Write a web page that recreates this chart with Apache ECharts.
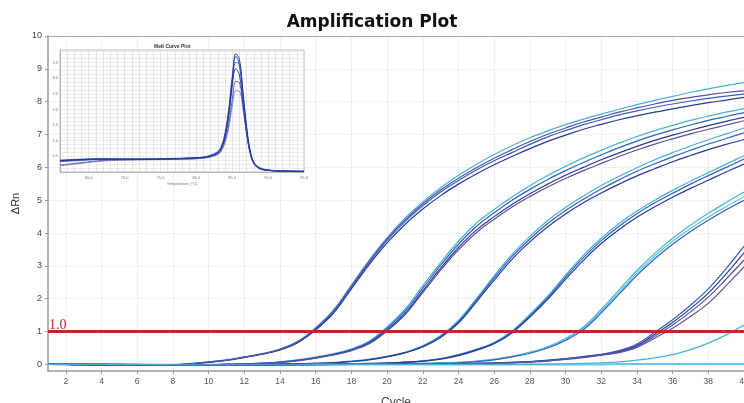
<!DOCTYPE html>
<html><head><meta charset="utf-8">
<script src="https://cdn.jsdelivr.net/npm/echarts@6/dist/echarts.min.js"></script>
<style>html,body{margin:0;padding:0;background:#fff}#c{width:744px;height:403px}</style>
</head><body><div id="c"></div>
<script>
// ---------- Amplification plot data ----------
const cycles = [1,2,3,4,5,6,7,8,9,10,11,12,13,14,15,16,17,18,19,20,21,22,23,24,25,26,27,28,29,30,31,32,33,34,35,36,37,38,39,40];
const xTicks = [2,4,6,8,10,12,14,16,18,20,22,24,26,28,30,32,34,36,38,40];
const yTicks = [0,1,2,3,4,5,6,7,8,9,10];
const threshold = 1.0;

const g1a = [0.02,0.01,0.01,0.0,-0.01,-0.02,-0.02,-0.01,0.03,0.08,0.14,0.23,0.33,0.47,0.71,1.12,1.66,2.42,3.18,3.86,4.45,4.95,5.38,5.76,6.09,6.39,6.66,6.9,7.11,7.3,7.47,7.62,7.77,7.91,8.04,8.16,8.28,8.39,8.49,8.58];
const g1b = [0.01,0.01,0.0,0.0,-0.01,-0.02,-0.03,-0.02,0.02,0.07,0.13,0.22,0.32,0.45,0.68,1.08,1.6,2.35,3.1,3.78,4.35,4.83,5.25,5.6,5.92,6.2,6.45,6.7,6.93,7.12,7.3,7.45,7.6,7.72,7.83,7.93,8.02,8.1,8.17,8.23];
const g1c = [0.01,0.0,0.0,-0.01,-0.02,-0.03,-0.03,-0.02,0.01,0.06,0.12,0.21,0.31,0.44,0.66,1.05,1.56,2.3,3.04,3.7,4.26,4.73,5.14,5.49,5.8,6.08,6.33,6.57,6.79,6.98,7.16,7.31,7.45,7.57,7.68,7.78,7.88,7.97,8.05,8.13];
const g1d = [0.02,0.01,0.0,0.0,-0.01,-0.02,-0.02,-0.01,0.02,0.07,0.13,0.22,0.32,0.46,0.69,1.1,1.63,2.38,3.14,3.82,4.4,4.89,5.31,5.67,5.99,6.28,6.54,6.79,7.01,7.2,7.38,7.53,7.68,7.81,7.93,8.04,8.13,8.21,8.28,8.33];

const g2a = [0.01,0.01,0.0,0.0,-0.01,-0.01,-0.02,-0.02,-0.02,-0.01,0.0,0.02,0.04,0.08,0.14,0.22,0.33,0.47,0.71,1.14,1.68,2.4,3.1,3.75,4.3,4.72,5.1,5.44,5.75,6.03,6.29,6.52,6.74,6.94,7.12,7.28,7.43,7.56,7.68,7.79];
const g2b = [0.01,0.0,0.0,-0.01,-0.01,-0.02,-0.02,-0.02,-0.02,-0.01,0.0,0.01,0.03,0.07,0.13,0.21,0.31,0.45,0.68,1.1,1.62,2.32,3.02,3.66,4.2,4.62,5.0,5.33,5.63,5.9,6.15,6.38,6.6,6.8,6.98,7.14,7.29,7.43,7.55,7.67];
const g2c = [0.0,0.0,-0.01,-0.01,-0.02,-0.02,-0.03,-0.03,-0.02,-0.01,0.0,0.01,0.03,0.06,0.12,0.2,0.3,0.43,0.65,1.05,1.55,2.24,2.93,3.56,4.09,4.5,4.87,5.2,5.49,5.76,6.0,6.23,6.44,6.64,6.82,6.98,7.13,7.27,7.4,7.52];
const g2d = [0.0,0.0,-0.01,-0.01,-0.02,-0.02,-0.03,-0.03,-0.02,-0.01,0.0,0.01,0.03,0.06,0.11,0.19,0.29,0.42,0.63,1.02,1.51,2.19,2.87,3.49,4.01,4.42,4.79,5.11,5.4,5.66,5.9,6.12,6.33,6.53,6.71,6.87,7.02,7.16,7.29,7.42];

const g3a = [0.0,0.0,0.0,-0.01,-0.01,-0.02,-0.02,-0.02,-0.02,-0.02,-0.01,-0.01,0.0,0.01,0.02,0.03,0.06,0.1,0.16,0.25,0.37,0.57,0.88,1.34,2.0,2.7,3.35,3.9,4.38,4.78,5.13,5.45,5.73,5.99,6.23,6.45,6.65,6.84,7.02,7.2];
const g3b = [0.0,0.0,-0.01,-0.01,-0.01,-0.02,-0.02,-0.02,-0.02,-0.02,-0.01,-0.01,0.0,0.01,0.02,0.03,0.05,0.09,0.15,0.24,0.36,0.55,0.85,1.3,1.95,2.64,3.28,3.82,4.29,4.69,5.03,5.34,5.62,5.88,6.11,6.32,6.52,6.71,6.88,7.05];
const g3c = [0.0,-0.01,-0.01,-0.01,-0.02,-0.02,-0.02,-0.03,-0.02,-0.02,-0.01,-0.01,0.0,0.01,0.02,0.03,0.05,0.09,0.14,0.23,0.35,0.53,0.82,1.26,1.9,2.57,3.2,3.73,4.19,4.58,4.92,5.22,5.49,5.74,5.96,6.17,6.36,6.54,6.7,6.85];

const g4a = [0.0,0.0,0.0,0.0,-0.01,-0.01,-0.01,-0.02,-0.02,-0.02,-0.02,-0.01,-0.01,0.0,0.0,0.01,0.01,0.02,0.03,0.05,0.07,0.11,0.18,0.3,0.46,0.67,1.02,1.52,2.08,2.72,3.32,3.84,4.29,4.67,5.0,5.3,5.58,5.84,6.1,6.35];
const g4b = [0.0,0.0,0.0,-0.01,-0.01,-0.01,-0.02,-0.02,-0.02,-0.02,-0.02,-0.01,-0.01,0.0,0.0,0.01,0.01,0.02,0.03,0.04,0.07,0.1,0.17,0.29,0.45,0.65,0.99,1.48,2.03,2.66,3.25,3.77,4.21,4.59,4.92,5.21,5.49,5.75,6.0,6.25];
const g4c = [0.0,0.0,-0.01,-0.01,-0.01,-0.02,-0.02,-0.02,-0.02,-0.02,-0.02,-0.01,-0.01,0.0,0.0,0.0,0.01,0.02,0.02,0.04,0.06,0.1,0.16,0.27,0.43,0.63,0.96,1.44,1.98,2.59,3.17,3.68,4.11,4.48,4.8,5.09,5.36,5.61,5.86,6.1];

const g5a = [0.0,0.0,0.0,0.0,0.0,-0.01,-0.01,-0.01,-0.01,-0.02,-0.02,-0.02,-0.01,-0.01,-0.01,0.0,0.0,0.0,0.01,0.01,0.02,0.03,0.04,0.06,0.1,0.16,0.25,0.37,0.54,0.79,1.14,1.68,2.27,2.86,3.38,3.84,4.24,4.6,4.93,5.25];
const g5b = [0.0,0.0,0.0,0.0,-0.01,-0.01,-0.01,-0.01,-0.02,-0.02,-0.02,-0.02,-0.01,-0.01,-0.01,0.0,0.0,0.0,0.01,0.01,0.02,0.03,0.04,0.06,0.09,0.15,0.24,0.36,0.52,0.76,1.1,1.62,2.2,2.78,3.3,3.75,4.14,4.49,4.81,5.1];
const g5c = [0.0,0.0,0.0,-0.01,-0.01,-0.01,-0.01,-0.02,-0.02,-0.02,-0.02,-0.02,-0.01,-0.01,-0.01,0.0,0.0,0.0,0.0,0.01,0.02,0.02,0.04,0.05,0.09,0.14,0.23,0.34,0.5,0.73,1.06,1.57,2.14,2.71,3.22,3.66,4.05,4.39,4.71,5.0];

const g6a = [0.0,0.0,0.0,0.0,0.0,0.0,-0.01,-0.01,-0.01,-0.01,-0.01,-0.02,-0.02,-0.02,-0.01,-0.01,-0.01,0.0,0.0,0.0,0.0,0.01,0.01,0.02,0.03,0.04,0.06,0.09,0.13,0.18,0.24,0.31,0.42,0.62,0.98,1.36,1.8,2.3,2.92,3.6];
const g6b = [0.0,0.0,0.0,0.0,0.0,-0.01,-0.01,-0.01,-0.01,-0.01,-0.02,-0.02,-0.02,-0.01,-0.01,-0.01,0.0,0.0,0.0,0.0,0.01,0.01,0.01,0.02,0.03,0.04,0.06,0.08,0.12,0.17,0.23,0.3,0.4,0.58,0.92,1.28,1.7,2.17,2.76,3.4];
const g6c = [0.0,0.0,0.0,0.0,-0.01,-0.01,-0.01,-0.01,-0.01,-0.02,-0.02,-0.02,-0.01,-0.01,-0.01,0.0,0.0,0.0,0.0,0.0,0.01,0.01,0.01,0.02,0.03,0.04,0.05,0.08,0.11,0.16,0.22,0.29,0.38,0.55,0.86,1.2,1.6,2.05,2.6,3.18];
const g6d = [0.0,0.0,0.0,-0.01,-0.01,-0.01,-0.01,-0.01,-0.02,-0.02,-0.02,-0.01,-0.01,-0.01,0.0,0.0,0.0,0.0,0.0,0.0,0.01,0.01,0.01,0.02,0.03,0.04,0.05,0.07,0.1,0.15,0.21,0.28,0.36,0.52,0.8,1.1,1.46,1.86,2.4,2.97];

const g7a = [0.0,0.0,0.0,0.0,0.0,0.0,0.0,-0.01,-0.01,-0.01,-0.01,-0.01,-0.01,-0.01,-0.01,0.0,0.0,0.0,0.0,0.0,0.0,0.0,0.0,0.0,0.0,0.0,0.0,0.0,0.01,0.02,0.03,0.05,0.08,0.13,0.2,0.3,0.45,0.65,0.9,1.2];
const ntc = [0.01,0.01,0.0,0.0,0.0,-0.01,-0.01,-0.01,-0.01,-0.01,0.0,0.0,0.0,0.0,0.0,0.0,0.0,0.0,0.0,0.0,0.0,0.0,0.0,0.0,0.0,0.0,0.0,0.0,0.0,0.0,0.0,0.0,0.01,0.01,0.01,0.01,0.01,0.01,0.01,0.01];

// ---------- Melt curve inset data ----------
const temps = [61,64,67,70,73,76,79,81,82,83,83.5,84,84.5,85,85.5,86,86.5,87,87.5,88,88.5,89,90,92,95];
const insetXTicks = [65,70,75,80,85,90,95];
const insetYTicks = [0.5,1,1.5,2,2.5,3,3.5];
const m1 = [0.36,0.4,0.42,0.41,0.41,0.42,0.44,0.47,0.52,0.62,0.78,1.15,1.85,2.9,3.78,3.6,2.55,1.45,0.68,0.3,0.16,0.1,0.06,0.03,0.02];
const m2 = [0.38,0.41,0.42,0.42,0.42,0.43,0.45,0.48,0.54,0.66,0.84,1.25,2.0,3.05,3.7,3.4,2.35,1.3,0.6,0.27,0.15,0.09,0.05,0.03,0.02];
const m3 = [0.33,0.37,0.4,0.4,0.4,0.41,0.43,0.46,0.5,0.6,0.74,1.08,1.7,2.7,3.5,3.45,2.5,1.42,0.66,0.3,0.16,0.1,0.06,0.03,0.02];
const m4 = [0.22,0.3,0.37,0.39,0.4,0.41,0.42,0.45,0.49,0.58,0.7,1.0,1.5,2.3,2.9,2.85,2.15,1.3,0.62,0.3,0.17,0.11,0.06,0.03,0.02];
const m5 = [0.2,0.28,0.35,0.38,0.39,0.4,0.41,0.44,0.48,0.56,0.68,0.95,1.4,2.1,2.6,2.58,1.98,1.22,0.62,0.32,0.2,0.13,0.07,0.03,0.02];
const m6 = [0.35,0.39,0.41,0.41,0.41,0.42,0.44,0.47,0.52,0.63,0.8,1.18,1.88,2.85,3.3,3.1,2.2,1.25,0.6,0.28,0.15,0.09,0.05,0.03,0.02];

// ---------- styles ----------
const CYAN = '#45b3d6', BLUE = '#2f62c0', NAVY = '#2b3a8e', PURPLE = '#5b50a4', TEAL = '#5cc4d6';
const ampCurves = [ntc,g1a,g1b,g1c,g1d,g2a,g2b,g2c,g2d,g3a,g3b,g3c,g4a,g4b,g4c,g5a,g5b,g5c,g6a,g6b,g6c,g6d,g7a];
const ampColors = ['#6cc6e6',CYAN,BLUE,NAVY,PURPLE,CYAN,BLUE,NAVY,PURPLE,CYAN,BLUE,NAVY,CYAN,BLUE,NAVY,CYAN,TEAL,BLUE,BLUE,NAVY,PURPLE,PURPLE,CYAN];
const meltCurves = [m5,m4,m3,m6,m2,m1];
const meltColors = ['#7d8ad2','#6a62b4','#4a6fd0','#2b3a8e','#3458c4','#25318a'];

const series = [];
ampCurves.forEach((vals, i) => {
  series.push({
    type: 'line', xAxisIndex: 0, yAxisIndex: 0, smooth: 0.4, showSymbol: false, silent: true, z: 2,
    lineStyle: { color: ampColors[i], width: i === 0 ? 2 : 1.2 },
    data: cycles.map((c, k) => [c, vals[k]])
  });
});
series.push({
  type: 'line', xAxisIndex: 0, yAxisIndex: 0, data: [], z: 5, silent: true,
  markLine: {
    symbol: 'none', silent: true, animation: false,
    lineStyle: { color: '#c0272d', width: 3, type: 'solid' },
    label: { show: true, position: 'insideStartTop', formatter: threshold.toFixed(1), color: '#c0272d',
      fontFamily: 'Liberation Serif', fontSize: 14, distance: [1, -1] },
    data: [{ yAxis: threshold }]
  }
});
meltCurves.forEach((vals, i) => {
  series.push({
    type: 'line', xAxisIndex: 1, yAxisIndex: 1, smooth: 0.4, showSymbol: false, silent: true, z: 6,
    lineStyle: { color: meltColors[i], width: 1 },
    data: temps.map((t, k) => [t, vals[k]])
  });
});

const chart = echarts.init(document.getElementById('c'), null, { renderer: 'canvas' });
chart.setOption({
  animation: false,
  backgroundColor: '#fff',
  title: [
    { text: 'Amplification Plot', left: 'center', top: 9,
      textStyle: { fontFamily: 'DejaVu Sans', fontWeight: 'bold', fontSize: 17, color: '#111' } },
    { text: 'Melt Curve Plot', left: 149, top: 39,
      textStyle: { fontFamily: 'Liberation Sans', fontWeight: 'bold', fontSize: 5, color: '#333' }, z: 8 }
  ],
  grid: [
    { left: 48, right: 0, top: 36, bottom: 32, show: false, containLabel: false, outerBoundsMode: 'none' },
    { left: 60, top: 50, width: 244, height: 122, show: true, backgroundColor: '#fff',
      borderColor: '#b0b0b0', borderWidth: 0.8, z: 3, containLabel: false, outerBoundsMode: 'none' }
  ],
  xAxis: [
    { type: 'value', gridIndex: 0, min: 1, max: 40,
      name: 'Cycle', nameLocation: 'middle', nameGap: 26,
      nameTextStyle: { fontFamily: 'Liberation Sans', fontSize: 12, color: '#444' },
      axisLine: { show: true, onZero: false, lineStyle: { color: '#9a9a9a', width: 1.5 } },
      axisTick: { show: true, length: 3, customValues: xTicks, lineStyle: { color: '#999' } },
      axisLabel: { customValues: xTicks, fontFamily: 'Liberation Sans', fontSize: 8.5, color: '#555', margin: 6 },
      splitLine: { show: true, lineStyle: { color: '#efefef', width: 1 } } },
    { type: 'value', gridIndex: 1, min: 61, max: 95, interval: 1, z: 4,
      name: 'Temperature (°C)', nameLocation: 'middle', nameGap: 10,
      nameTextStyle: { fontFamily: 'Liberation Sans', fontSize: 4, color: '#777' },
      axisLine: { show: true, onZero: false, lineStyle: { color: '#aaa', width: 0.8 } },
      axisTick: { show: false },
      axisLabel: { customValues: insetXTicks, formatter: v => v.toFixed(1), fontSize: 4, color: '#777', margin: 4 },
      splitLine: { show: true, lineStyle: { color: '#d6d6d6', width: 0.6 } } },
    { type: 'value', gridIndex: 0, min: 1, max: 40, position: 'top',
      axisLine: { show: true, onZero: false, lineStyle: { color: '#a8a8a8', width: 1 } },
      axisTick: { show: false }, axisLabel: { show: false }, splitLine: { show: false } }
  ],
  yAxis: [
    { type: 'value', gridIndex: 0, min: -0.2, max: 10,
      name: 'ΔRn', nameLocation: 'middle', nameGap: 24, nameRotate: 90,
      nameTextStyle: { fontFamily: 'Liberation Sans', fontSize: 11, color: '#333' },
      axisLine: { show: true, lineStyle: { color: '#9a9a9a', width: 1.5 } },
      axisTick: { show: true, length: 3, customValues: yTicks, lineStyle: { color: '#999' } },
      axisLabel: { customValues: yTicks, fontFamily: 'Liberation Sans', fontSize: 9, color: '#444', margin: 6 },
      splitLine: { show: true, lineStyle: { color: '#efefef', width: 1 } } },
    { type: 'value', gridIndex: 1, min: 0, max: 3.9, interval: 0.125, z: 4,
      axisLine: { show: true, lineStyle: { color: '#aaa', width: 0.8 } },
      axisTick: { show: false },
      axisLabel: { customValues: insetYTicks, formatter: v => v.toFixed(1), fontSize: 4, color: '#777', margin: 2 },
      splitLine: { show: true, lineStyle: { color: '#dcdcdc', width: 0.5 } } }
  ],
  series: series
});
</script>
</body></html>
